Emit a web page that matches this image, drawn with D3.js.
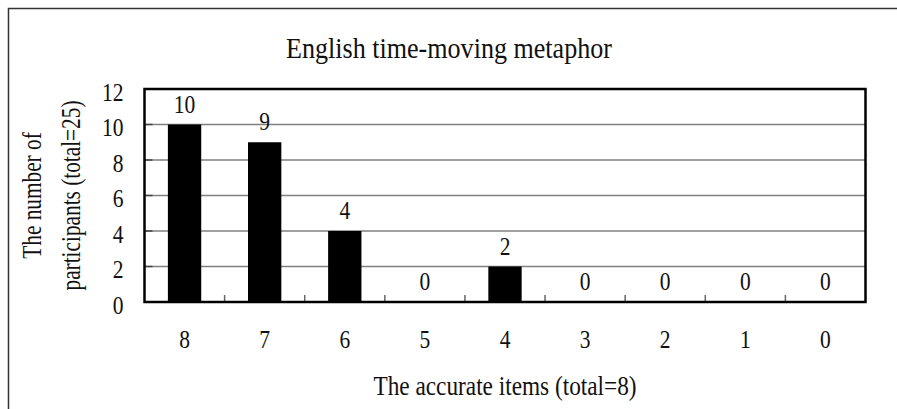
<!DOCTYPE html>
<html>
<head>
<meta charset="utf-8">
<script src="https://cdn.jsdelivr.net/npm/d3@7/dist/d3.min.js"></script>
<style>
  html, body { margin: 0; padding: 0; background: #fff; }
  svg { display: block; }
  text { font-family: "Liberation Serif", "DejaVu Serif", serif; fill: #111; }
</style>
</head>
<body>
<svg id="chart" width="897" height="409"></svg>
<script>
const categories = ["8", "7", "6", "5", "4", "3", "2", "1", "0"];
const values = [10, 9, 4, 0, 2, 0, 0, 0, 0];
const yTicks = [0, 2, 4, 6, 8, 10, 12];
const titleText = "English time-moving metaphor";
const xTitleText = "The accurate items (total=8)";
const yTitleLines = ["The number of", "participants (total=25)"];

const FONT = "'Liberation Serif', 'DejaVu Serif', serif";
const svg = d3.select("#chart");
const W = 897, H = 409;
const plot = { left: 144.5, top: 89, right: 865.5, bottom: 302 };
const NUM_SIZE = 25, NUM_HSCALE = 0.86;

// condense text horizontally (narrow tall glyphs like the original font)
function condense(sel, factor) {
  sel.each(function () {
    const w = this.getComputedTextLength();
    if (w > 0) {
      d3.select(this).attr("textLength", w * factor).attr("lengthAdjust", "spacingAndGlyphs");
    }
  });
}
function fitTo(sel, target) {
  const w = sel.node().getComputedTextLength();
  if (w > 0) sel.attr("textLength", target).attr("lengthAdjust", "spacingAndGlyphs");
  return w > 0 ? target / w : 1;
}

// outer chart border (extends beyond visible area on right/bottom)
svg.append("rect")
  .attr("x", 8.5).attr("y", 8.5)
  .attr("width", W + 20).attr("height", H + 20)
  .attr("fill", "#fff").attr("stroke", "#333").attr("stroke-width", 1.5);

const pin = 0.584;
const x = d3.scaleBand().domain(categories)
  .range([plot.left, plot.right])
  .paddingInner(pin).paddingOuter(pin / 2);
const y = d3.scaleLinear().domain([0, 12]).range([plot.bottom, plot.top]);

// gridlines
svg.append("g").selectAll("line")
  .data(yTicks.filter(d => d > 0 && d < 12))
  .join("line")
  .attr("x1", plot.left).attr("x2", plot.right)
  .attr("y1", d => y(d)).attr("y2", d => y(d))
  .attr("stroke", "#808080").attr("stroke-width", 1.5);

// y inner ticks
svg.append("g").selectAll("line")
  .data(yTicks.filter(d => d > 0 && d < 12))
  .join("line")
  .attr("x1", plot.left).attr("x2", plot.left + 8)
  .attr("y1", d => y(d)).attr("y2", d => y(d))
  .attr("stroke", "#444").attr("stroke-width", 1.5);

// y tick labels (via axis)
const yAxis = d3.axisLeft(y).tickValues(yTicks).tickSize(0).tickPadding(21);
const yg = svg.append("g").attr("transform", `translate(${plot.left},0)`).call(yAxis);
yg.attr("font-family", FONT);
yg.select(".domain").remove();
yg.selectAll("text")
  .attr("font-size", NUM_SIZE).attr("fill", "#111")
  .attr("dy", 11)
  .call(condense, NUM_HSCALE);

// x band boundary ticks
const step = x.step();
const bounds = categories.slice(1).map(c => x(c) - step * pin / 2);
svg.append("g").selectAll("line")
  .data(bounds).join("line")
  .attr("x1", d => d).attr("x2", d => d)
  .attr("y1", plot.bottom).attr("y2", plot.bottom - 7)
  .attr("stroke", "#666").attr("stroke-width", 1.5);

// bars
svg.append("g").selectAll("rect")
  .data(categories.map((c, i) => ({ c, v: values[i] })))
  .join("rect")
  .attr("x", d => x(d.c))
  .attr("y", d => y(d.v))
  .attr("width", x.bandwidth())
  .attr("height", d => y(0) - y(d.v))
  .attr("fill", "#000");

// value labels
svg.append("g").selectAll("text")
  .data(categories.map((c, i) => ({ c, v: values[i] })))
  .join("text")
  .attr("x", d => x(d.c) + x.bandwidth() / 2)
  .attr("y", d => y(d.v) - 12)
  .attr("text-anchor", "middle")
  .attr("font-size", NUM_SIZE)
  .text(d => d.v)
  .call(condense, NUM_HSCALE);

// plot frame
svg.append("rect")
  .attr("x", plot.left).attr("y", plot.top)
  .attr("width", plot.right - plot.left).attr("height", plot.bottom - plot.top)
  .attr("fill", "none").attr("stroke", "#000").attr("stroke-width", 2.5);

// x axis labels
const xAxis = d3.axisBottom(x).tickSize(0).tickPadding(0);
const xg = svg.append("g").attr("transform", `translate(0,${plot.bottom})`).call(xAxis);
xg.attr("font-family", FONT);
xg.select(".domain").remove();
xg.selectAll("text")
  .attr("font-size", NUM_SIZE).attr("fill", "#111")
  .attr("y", 46).attr("dy", 0)
  .call(condense, NUM_HSCALE);

// title
const title = svg.append("text")
  .attr("x", 449).attr("y", 58)
  .attr("text-anchor", "middle")
  .attr("font-size", 29)
  .text(titleText);
fitTo(title, 326);

// x title
const xt = svg.append("text")
  .attr("x", (plot.left + plot.right) / 2).attr("y", 395)
  .attr("text-anchor", "middle")
  .attr("font-size", 28)
  .text(xTitleText);
fitTo(xt, 263);

// y title
const yCenter = (plot.top + plot.bottom) / 2;
const yLines = [41, 80].map((bx, i) => svg.append("text")
  .attr("transform", `translate(${bx},${yCenter}) rotate(-90)`)
  .attr("text-anchor", "middle")
  .attr("font-size", 27)
  .text(yTitleLines[i]));
const f = fitTo(yLines[1], 190);
yLines[0].call(condense, f);
</script>
</body>
</html>
